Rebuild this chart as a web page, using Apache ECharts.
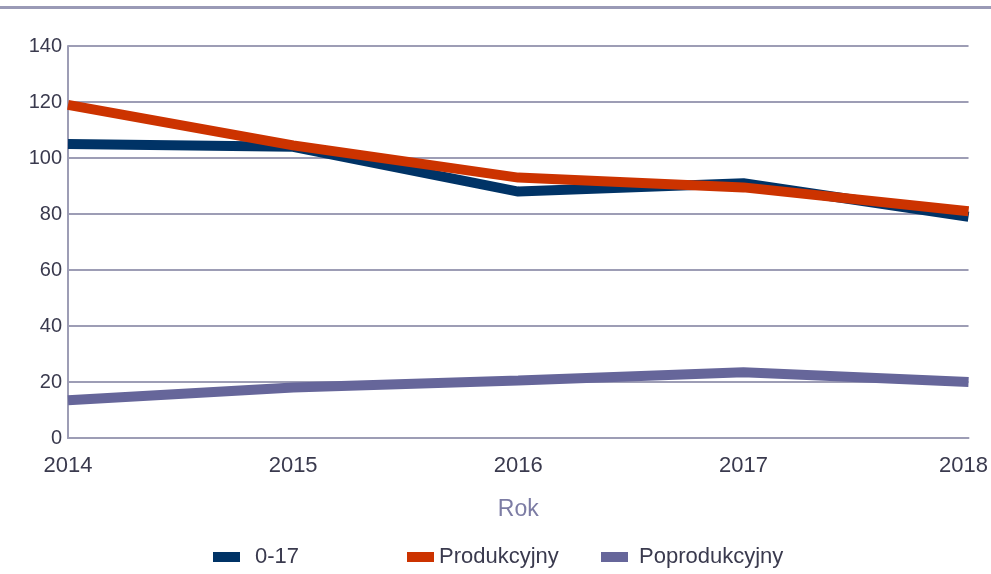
<!DOCTYPE html>
<html lang="pl">
<head>
    <meta charset="utf-8">
    <title>Wskaźnik obciążenia demograficznego</title>
    <script src="https://cdn.jsdelivr.net/npm/echarts@6/dist/echarts.min.js"></script>
    <style>
        html, body { margin: 0; padding: 0; background: #fff; }
        #main { width: 991px; height: 574px; }
    </style>
</head>
<body>
    <div id="main"></div>
    <script>
    var years = ['2014', '2015', '2016', '2017', '2018'];
    var age017 = [105, 104, 88, 91, 79];
    var produkcyjny = [119, 104.5, 93, 89.5, 81];
    var poprodukcyjny = [13.5, 18, 20.5, 23.5, 20];

    var gridColor = '#9d9db5';
    var font = 'Arial, "Liberation Sans", sans-serif';

    var chart = echarts.init(document.getElementById('main'));

    // każda pozycja legendy osobno - odstępy w oryginale są nierówne
    function legendAt(name, left, gap) {
        return {
            left: left, top: 546, padding: 0,
            data: [name],
            icon: 'rect', itemWidth: 27, itemHeight: 10, itemGap: 0,
            textStyle: { fontFamily: font, fontSize: 22, color: '#3a3a4e', padding: [0, 0, 0, gap] }
        };
    }

    chart.setOption({
        animation: false,
        graphic: [{
            type: 'rect',
            shape: { x: 0, y: 6, width: 991, height: 3 },
            style: { fill: '#9a9ab6' }
        }],
        grid: { left: 68, right: 21, top: 46, bottom: 136 },
        legend: [
            legendAt('0-17', 213, 10),
            legendAt('Produkcyjny', 407, 0),
            legendAt('Poprodukcyjny', 601, 6)
        ],
        xAxis: {
            type: 'category',
            data: years,
            boundaryGap: false,
            name: 'Rok',
            nameLocation: 'middle',
            nameGap: 60,
            nameTextStyle: { fontFamily: font, fontSize: 23, color: '#7c7ca4' },
            axisLine: { lineStyle: { color: gridColor, width: 2 } },
            axisTick: { show: false },
            axisLabel: {
                fontFamily: font, fontSize: 22, color: '#3a3a4e', margin: 17,
                alignMinLabel: 'center', alignMaxLabel: 'center',
                formatter: function (v) {
                    return v === years[years.length - 1] ? '{last|' + v + '}' : v;
                },
                rich: {
                    last: { fontFamily: font, fontSize: 22, color: '#3a3a4e', padding: [0, 10, 0, 0] }
                }
            }
        },
        yAxis: {
            type: 'value',
            min: 0, max: 140, interval: 20,
            axisLine: { show: true, lineStyle: { color: gridColor, width: 2 } },
            axisTick: { show: false },
            axisLabel: { fontFamily: font, fontSize: 20, color: '#3a3a4e', margin: 6 },
            splitLine: { lineStyle: { color: gridColor, width: 2 } }
        },
        series: [{
            name: '0-17',
            type: 'line',
            data: age017,
            symbol: 'none',
            color: '#003366',
            lineStyle: { width: 10, color: '#003366' }
        }, {
            name: 'Produkcyjny',
            type: 'line',
            data: produkcyjny,
            symbol: 'none',
            color: '#cc3300',
            lineStyle: { width: 10, color: '#cc3300' }
        }, {
            name: 'Poprodukcyjny',
            type: 'line',
            data: poprodukcyjny,
            symbol: 'none',
            color: '#66669a',
            lineStyle: { width: 10, color: '#66669a' }
        }]
    });
    </script>
</body>
</html>
